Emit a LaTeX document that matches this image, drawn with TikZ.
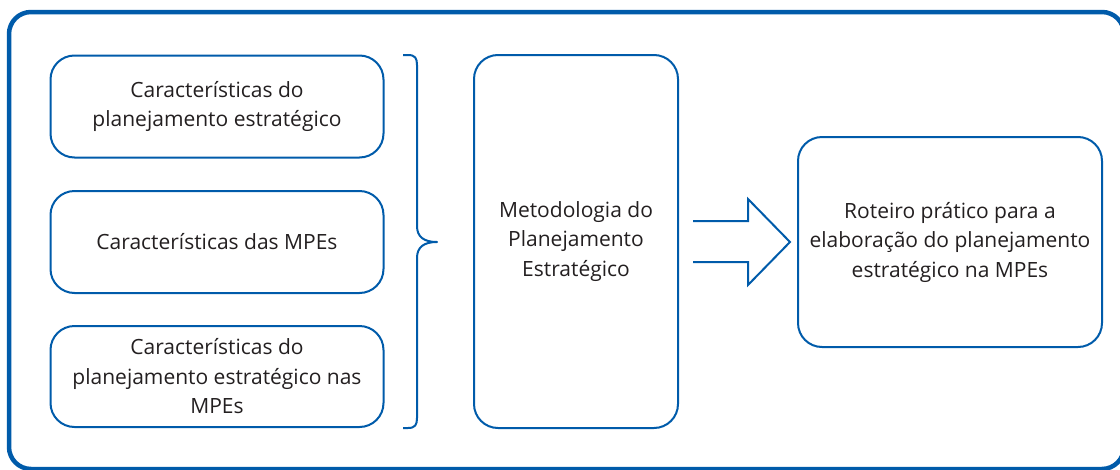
\documentclass[tikz,border=0pt]{standalone}
\usepackage{fontspec}
\setmainfont{Open Sans}
\definecolor{frameblue}{HTML}{005BAA}
\definecolor{txt}{HTML}{231F20}
\tikzset{
  box/.style={draw=frameblue, line width=2pt, rounded corners=24pt, align=center,
    text=txt, font=\fontsize{21}{29.5}\selectfont, inner sep=0pt},
  shapeline/.style={draw=frameblue, line width=2pt},
}
\begin{document}
\begin{tikzpicture}[x=1pt,y=-1pt]
\useasboundingbox (0,0) rectangle (1120,469);
\draw[frameblue, line width=4.5pt, rounded corners=22pt] (9,12) rectangle (1124,469);
\node[box, minimum width=333pt, minimum height=102pt] (c1) at (217,106.5) {Características do\\planejamento estratégico};
\node[box, minimum width=333pt, minimum height=102pt] (c2) at (217,242) {Características das MPEs};
\node[box, minimum width=333pt, minimum height=101pt] (c3) at (217,376.5) {Características do\\planejamento estratégico nas\\MPEs};
\node[box, minimum width=204pt, minimum height=373pt] (m) at (576,241.5) {Metodologia do\\Planejamento\\Estratégico};
\node[box, minimum width=304pt, minimum height=210pt] (r) at (950,242) {Roteiro prático para a\\elaboração do planejamento\\estratégico na MPEs};
\draw[shapeline, line join=round] (403,55) -- (408,55) .. controls (415,55) and (417,58) .. (417,65)
  -- (417,226) .. controls (417,237) and (424,242) .. (437,242)
  .. controls (424,242) and (417,247) .. (417,258)
  -- (417,418) .. controls (417,425) and (415,428) .. (408,428) -- (403,428);
\draw[shapeline, line join=miter] (693,221) -- (748,221) -- (748,199) -- (790,242) -- (748,285) -- (748,262) -- (693,262);
\end{tikzpicture}
\end{document}
